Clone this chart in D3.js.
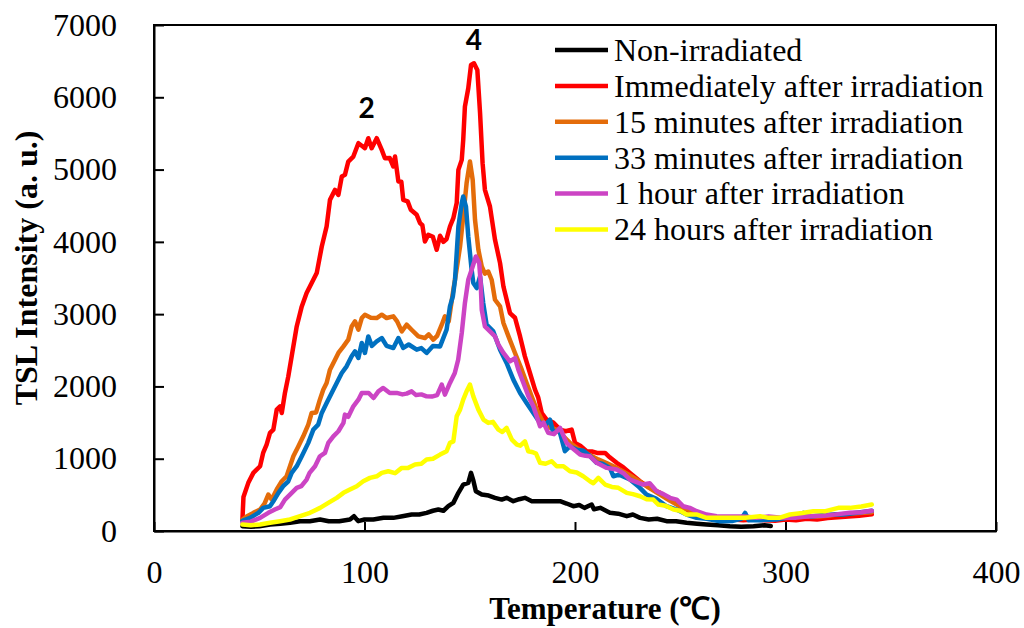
<!DOCTYPE html>
<html><head><meta charset="utf-8">
<script src="https://cdn.jsdelivr.net/npm/d3@7"></script>
<style>body{margin:0;background:#fff}svg{display:block}</style>
</head><body><svg id="c" width="1024" height="628"></svg>
<script>
const xTicks = [0,100,200,300,400];
const yTicks = [0,1000,2000,3000,4000,5000,6000,7000];
const seriesNames = ["Non-irradiated","Immediately after irradiation","15 minutes after irradiation","33 minutes after irradiation","1 hour after irradiation","24 hours after irradiation"];
const seriesColors = ["#000000","#FF0000","#E46C0A","#0070C0","#CC44C4","#FFFF00"];

const nonIrradiated = [[42,66],[46,60],[50,66],[55.1,90],[60,100],[64.6,113],[69.4,136],[74,136],[78.9,159],[83,136],[88,136],[93.1,159],[95,205],[97,136],[100,159],[104.2,159],[109,182],[113.7,182],[118,205],[122.4,228],[126,228],[129.5,251],[132.5,280],[135.1,297],[137.5,280],[139.8,343],[142.2,389],[144.6,528],[146.9,643],[149.3,666],[150.6,804],[151.7,700],[152.9,550],[155.7,504],[159,490],[162,459],[165.2,435],[167.5,459],[170.7,412],[173.5,440],[176.2,459],[179.5,412],[183.4,412],[188,412],[192.9,412],[196,380],[199.2,343],[202,360],[204.5,320],[207.9,366],[209,300],[212,320],[216.6,251],[220.5,240],[224.6,205],[227.5,228],[230.9,182],[235,160],[239,170],[243.5,136],[248,136],[253,113],[258,100],[262.5,90],[268,80],[273.6,66],[279,60],[284.8,66],[290,80],[293,70]];

const immediately = [[42,150],[42.5,470],[44.8,666],[47.2,804],[50.4,896],[51.9,1085],[53.5,1195],[55.1,1357],[56.7,1403],[58.3,1679],[59.9,1725],[60.7,1633],[62.2,1910],[63.8,2139],[65.4,2416],[67.8,2830],[70.2,3107],[72.5,3292],[74.9,3430],[77.3,3568],[79.7,3936],[82.0,4212],[83.6,4581],[86.0,4719],[87.6,4650],[89.2,4903],[90.7,4927],[92.3,5111],[94.7,5180],[97.1,5365],[98.7,5330],[100.2,5296],[101.8,5434],[103.4,5296],[105.8,5434],[108.2,5272],[109.7,5157],[112,5160],[113.7,5042],[114.5,5180],[116.1,4834],[117.5,4830],[118.4,4581],[120.5,4560],[122,4443],[124.8,4374],[126.4,4259],[127.5,4230],[128.7,4005],[130.3,4098],[132.5,4070],[134.3,3890],[135.9,4084],[137.5,4000],[139,4040],[140.6,4212],[142.2,4328],[143.8,4536],[144.6,4996],[146.2,5134],[146.9,5411],[147.7,5870],[149.3,6125],[150.6,6447],[152.0,6471],[153.6,6378],[154.9,5780],[156.1,5089],[157.2,4720],[159.6,4489],[162.0,4028],[164.4,3706],[166,3383],[169.1,3015],[171.5,2950],[173.9,2692],[176.2,2416],[178.6,2186],[181,1955],[182.5,1850],[184.2,1633],[186.5,1541],[189.7,1500],[192.9,1403],[195.5,1380],[198.4,1403],[200,1219],[202.5,1180],[205.5,1103],[208,1100],[210.5,1080],[214.3,1080],[216.5,1020],[219.8,943],[223,880],[226.1,804],[230.9,688],[235.6,596],[240.4,528],[245.1,435],[249.9,343],[254.6,274],[259.4,228],[264.1,205],[270,170],[275,160],[280,150],[285,160],[290,150],[295,140],[300,160],[305,150],[310,170],[315,160],[320,180],[325,190],[330,200],[335,210],[341,230]];

const min15 = [[42,159],[44,200],[47.2,251],[50.4,297],[52.5,380],[54.3,504],[55.9,435],[58.3,574],[60.7,688],[63.0,757],[64.6,896],[66.2,1034],[68.6,1172],[70.9,1310],[73.3,1472],[74.9,1633],[77,1640],[78.8,1817],[80.4,1955],[82.0,2048],[83.6,2232],[86,2370],[87.6,2463],[90,2554],[92.3,2647],[93.9,2830],[95.5,2900],[97.1,2785],[98.7,2946],[100.2,2992],[103,2950],[105.8,2946],[108.2,2992],[110.5,2946],[113.7,2969],[115.5,2900],[117.7,2761],[120.0,2854],[122.5,2780],[125.6,2692],[128.7,2670],[130.5,2720],[132.7,2647],[134.5,2700],[136.7,2854],[138.2,2969],[140,2900],[142.2,3337],[143,3476],[145.4,3936],[146.9,4350],[148.5,4812],[150.1,5111],[151.4,4858],[152.5,4305],[154.1,3890],[155.7,3660],[157.2,3560],[158.8,3590],[160.4,3476],[162,3199],[164.4,3107],[166,2877],[168.4,2692],[171.5,2463],[174.7,2232],[177,2048],[179.4,1863],[181.8,1679],[185,1495],[188,1430],[191.3,1403],[194.5,1310],[197.6,1219],[200.8,1150],[203.9,1103],[207,1050],[211,990],[215,940],[220,870],[225,790],[230,700],[235,600],[240,510],[245,420],[250,340],[255,280],[260,230],[265,200],[270,180],[275,170],[280,180],[285,170],[290,160],[295,170],[300,180],[305,190],[310,200],[315,200],[320,210],[325,230],[330,240],[335,250],[341,260]];

const min33 = [[42,140],[45.6,182],[49.6,251],[51.9,320],[55.1,343],[56.7,412],[59.1,528],[61.4,620],[63.8,688],[65.4,804],[67.8,896],[70.2,1034],[73.3,1219],[75.7,1403],[78,1472],[79.7,1633],[82,1772],[84.4,1910],[86.8,2048],[89.2,2186],[91.5,2278],[93.9,2416],[95.5,2485],[97.1,2393],[98.7,2601],[100.2,2463],[101.8,2692],[103.5,2560],[105.8,2623],[108.2,2670],[110.5,2560],[113.7,2532],[116.1,2670],[118.4,2532],[121,2580],[124.8,2508],[127,2530],[129.5,2463],[132.5,2560],[135.9,2554],[139,2785],[140.6,3107],[142,3250],[143,3476],[144.6,4212],[146.2,4536],[146.9,4627],[148.2,4489],[149.3,4074],[150.9,3614],[151.7,3430],[153.3,3361],[154.9,3522],[156.4,3153],[158,2854],[161.2,2761],[164.4,2508],[167.5,2324],[170.7,2094],[173.9,1910],[177,1772],[180.2,1633],[183.4,1495],[186,1470],[188.1,1541],[189.7,1357],[192.5,1400],[195.2,1103],[197.5,1170],[200.8,1126],[204,1110],[207,1040],[210.3,943],[213,930],[216.6,873],[218.2,757],[221,780],[226.1,712],[230,620],[234,504],[238.5,450],[243.5,343],[248,300],[253,228],[257.8,182],[262.5,170],[268.9,136],[275,140],[279,170],[280.8,251],[282.5,150],[288,150],[295.8,159],[302,190],[308.5,251],[312,200],[318,220],[323,230],[327.5,228],[333,250],[341,280]];

const hour1 = [[42,113],[46,130],[50.4,182],[54.3,251],[57.4,297],[60,330],[62.2,435],[64.6,504],[67.8,597],[70,620],[72.5,712],[73.9,804],[76.5,896],[78.8,1034],[81.2,1080],[82.8,1219],[85.2,1310],[87.6,1380],[90,1495],[90.7,1610],[92.3,1580],[94.7,1725],[97.1,1817],[98.7,1910],[102,1910],[104.3,1840],[106.6,1932],[108.9,1979],[112,1910],[115.3,1910],[118,1890],[120,1900],[122.4,1932],[124.5,1880],[127,1890],[129.5,1863],[132,1860],[134.5,1880],[136.7,2025],[138.2,1886],[140.6,2048],[142.9,2186],[144.5,2370],[146.2,2739],[147.7,3153],[149.3,3476],[150.9,3614],[152.9,3798],[154.5,3706],[155.2,3430],[155.7,3061],[157.2,2830],[159.6,2761],[162,2692],[163.6,2578],[166,2463],[169.1,2347],[171.5,2393],[173.1,2232],[175.5,2048],[177.9,1863],[180.2,1725],[181.8,1587],[183.4,1449],[185,1500],[187.3,1357],[190,1340],[192.9,1426],[196,1219],[199,1140],[202.4,1057],[205,1040],[207.1,1034],[210.3,943],[215.1,873],[219.8,850],[223,800],[226.1,712],[229,680],[232.4,643],[235.5,660],[238.8,550],[242,510],[245.1,459],[248.3,435],[251.4,343],[254.5,320],[257.8,274],[262.5,228],[267.3,205],[274,200],[280,200],[286.3,182],[292,200],[298,185],[305,185],[311.6,205],[318,210],[324,230],[330.6,251],[336,260],[341,280]];

const hours24 = [[42,90],[46,80],[50.4,90],[55.1,113],[59.9,136],[64.6,159],[69.4,205],[74.1,251],[78.9,320],[82.8,389],[86.8,459],[90,528],[93.1,574],[96.3,620],[99.4,688],[102.6,735],[105.8,757],[108.2,804],[111.3,826],[114.5,800],[117.7,873],[120.5,870],[124,919],[127,930],[129.5,988],[132.5,1000],[135.9,1057],[139,1103],[140.6,1219],[142.2,1240],[143.8,1587],[145.4,1679],[146.9,1817],[148.5,1932],[150.1,2025],[151.7,1863],[154.1,1679],[156.5,1541],[158.8,1495],[161,1510],[163.6,1403],[165.5,1370],[167.5,1426],[170,1265],[172.4,1195],[174,1180],[176.2,1241],[177.8,1103],[180,1090],[181.5,1070],[183.4,943],[186,930],[188.9,965],[191.3,896],[194.5,896],[197.6,826],[200.8,810],[203.9,757],[207.1,688],[208.7,660],[211.1,735],[214.3,643],[217.5,610],[220.6,597],[224.6,528],[227.5,510],[230.9,481],[234,440],[237.2,435],[239.6,366],[243,350],[246.8,297],[250,280],[253,228],[258,228],[262.5,182],[268,182],[275,182],[281,182],[287.9,205],[292,182],[297,182],[302.1,228],[308,250],[313.2,274],[319,274],[325.1,320],[330.6,320],[336,340],[341,366]];

const peakLabels = [{t:101, v:5434, label:"2"}, {t:152, v:6471, label:"4"}];

const allSeries = [nonIrradiated, immediately, min15, min33, hour1, hours24];

const svg = d3.select("#c");
const X0 = 154, X1 = 996, Y0 = 531, Y1 = 25;
const x = d3.scaleLinear().domain([0,400]).range([X0,X1]);
const y = d3.scaleLinear().domain([0,7000]).range([Y0,Y1]);
const serif = "'Liberation Serif','Times New Roman',serif";

// frame
svg.append("rect").attr("x",X0).attr("y",Y1).attr("width",X1-X0).attr("height",Y0-Y1)
  .attr("fill","none").attr("stroke","#000").attr("stroke-width",2);

// axes
const xAxis = d3.axisBottom(x).tickValues(xTicks).tickFormat(d3.format("d")).tickSizeInner(-9).tickSizeOuter(0).tickPadding(30);
const gx = svg.append("g").attr("transform",`translate(0,${Y0})`).call(xAxis);
const yAxis = d3.axisLeft(y).tickValues(yTicks).tickFormat(d3.format("d")).tickSizeInner(-10).tickSizeOuter(0).tickPadding(37);
const gy = svg.append("g").attr("transform",`translate(${X0},0)`).call(yAxis);
[gx,gy].forEach(g=>{
  g.select(".domain").attr("stroke","#000").attr("stroke-width",2);
  g.selectAll(".tick line").attr("stroke","#000").attr("stroke-width",2);
  g.selectAll(".tick text").attr("fill","#000").style("font-family",serif).style("font-size","32px");
});
gx.selectAll(".tick text").attr("dy","0.69em");

// lines
const line = d3.line().x(d=>x(d[0])).y(d=>y(d[1]));
allSeries.forEach((s,i)=>{
  svg.append("path").datum(s).attr("d",line).attr("fill","none")
    .attr("stroke",seriesColors[i]).attr("stroke-width",4.5)
    .attr("stroke-linejoin","round").attr("stroke-linecap","round");
});

// peak labels
svg.selectAll(".pk").data(peakLabels).enter().append("text")
  .attr("x",d=>x(d.t)).attr("y",(d,i)=> y(d.v) - (i==0?20:13))
  .attr("text-anchor","middle").style("font-family","Lato,'Open Sans',sans-serif")
  .style("font-weight","bold").style("font-size","28px").text(d=>d.label);

// legend
const lg = svg.append("g");
seriesNames.forEach((n,i)=>{
  const yy = 50 + i*35.9;
  lg.append("line").attr("x1",555).attr("x2",608).attr("y1",yy).attr("y2",yy)
    .attr("stroke",seriesColors[i]).attr("stroke-width",4.5);
  lg.append("text").attr("x",614).attr("y",yy).attr("dy","0.34em")
    .style("font-family",serif).style("font-size","32px").text(n);
});

// axis titles
svg.append("text").attr("x",605).attr("y",619).attr("text-anchor","middle")
  .style("font-family",serif).style("font-weight","bold").style("font-size","31px")
  .text("Temperature (\u2103)");
svg.append("text").attr("transform","translate(37,268) rotate(-90)").attr("text-anchor","middle")
  .style("font-family",serif).style("font-weight","bold").style("font-size","32px")
  .text("TSL Intensity (a. u.)");
</script></body></html>
